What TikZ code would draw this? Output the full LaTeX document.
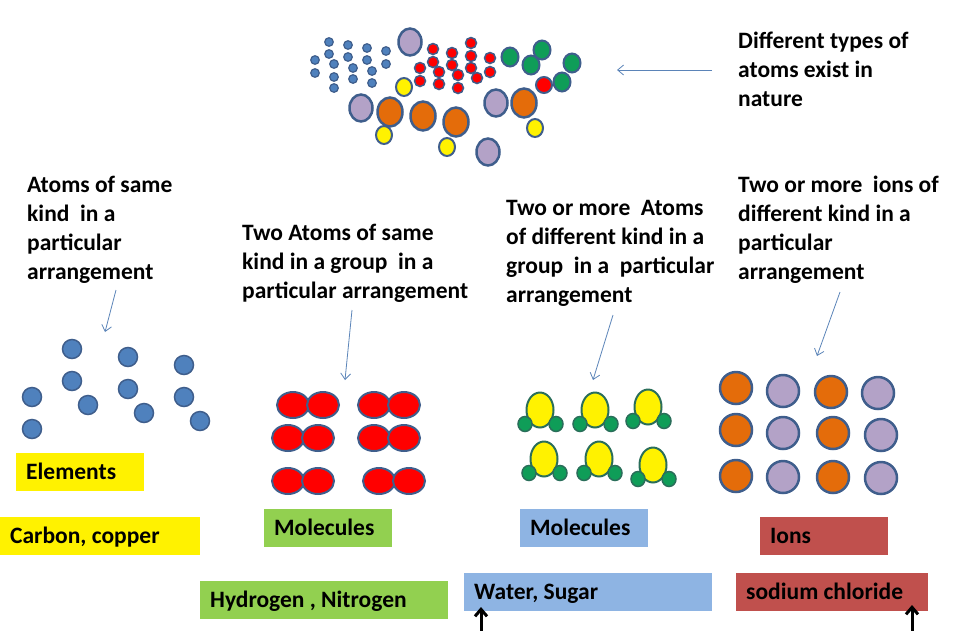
\documentclass[tikz,border=0pt]{standalone}
\usepackage{fontspec}
\setmainfont{Carlito}
\usetikzlibrary{positioning}
\usetikzlibrary{arrows.meta}
\definecolor{atomblue}{HTML}{4F81BD}
\definecolor{rimblue}{HTML}{3F5E8C}
\definecolor{lilac}{HTML}{B3A2C7}
\definecolor{ionorange}{HTML}{E46C0A}
\definecolor{hgreen}{HTML}{0F9D58}
\definecolor{hrim}{HTML}{2A6E5A}
\definecolor{boxgreen}{HTML}{92D050}
\definecolor{boxblue}{HTML}{8EB4E3}
\definecolor{boxred}{HTML}{C0504D}
\definecolor{pointer}{HTML}{5B84B8}
\frenchspacing
\begin{document}
\begin{tikzpicture}[x=1pt,y=-1pt,
                    note/.style={anchor=north west, align=left, inner sep=0pt,
                                 font=\bfseries\fontsize{23.5}{29}\selectfont},
                    tag/.style={anchor=north west, fill=#1, minimum height=38, inner xsep=10pt,
                                inner ysep=0pt, align=flush left, text height=18pt, text depth=3pt,
                                font=\bfseries\fontsize{23.5}{29}\selectfont},
                    atom/.style={fill=#1, draw=rimblue, line width=1.5},
                    pointer/.style={draw=pointer, line width=0.8, -{Straight Barb[length=6,width=10]}},
                    uparrow/.style={draw=black, line width=3, -{Straight Barb[length=7,width=12]}}]

    \useasboundingbox (0,0) rectangle (960,630);

    % atoms found in nature
    \foreach \x/\y in {329/42,348/45,367/48,386/51,329/54,348/57,367/60,386/64,315/60,334/64,
                       353/68,372/71,315/73,334/77,353/79,372/83,334/88}
        \filldraw[atom=atomblue, line width=1.2] (\x,\y) circle[radius=4.3];
    \foreach \x/\y in {433/49,452/53,471/43,433/62,452/65,471/56,420/68,439/72,458/75,471/68,
                       490/58,420/81,439/84,458/88,477/78,490/72}
        \filldraw[atom=red] (\x,\y) circle[radius=5.5];
    \foreach \x/\y in {510/57,542/50,531/65,572/63,562/82}
        \filldraw[atom=hgreen, line width=2] (\x,\y) circle[x radius=8.5, y radius=9.5];
    \filldraw[atom=red, line width=2] (544,85) circle[radius=8];
    \foreach \x/\y in {404/87,384/135,447/147,535/128}
        \filldraw[atom=yellow, line width=2] (\x,\y) circle[x radius=8, y radius=9];
    \foreach \x/\y in {410/42,361/108,496/103,488/152}
        \filldraw[atom=lilac, line width=2.5] (\x,\y) circle[x radius=11.5, y radius=13.5];
    \foreach \x/\y in {390/112,423/116,456/122,524/103}
        \filldraw[atom=ionorange, line width=2.5] (\x,\y) circle[x radius=12.5, y radius=14.5];

    % elements
    \foreach \x/\y in {72/349,128/357,184/365,72/381,128/389,184/397,32/397,88/405,144/413,
                       32/429,200/421}
        \filldraw[atom=atomblue] (\x,\y) circle[radius=9.5];

    % hydrogen molecules
    \foreach \x/\y in {293/405,374/405,288/438,374/438,288/481,379/481} {
        \filldraw[atom=red, line width=2] (\x,\y) circle[x radius=16, y radius=13];
        \filldraw[atom=red, line width=2] (\x+30,\y) circle[x radius=16, y radius=13];
    }

    % water molecules
    \foreach \x/\y in {540/410,595/410,648/407,544/459,599/459,653/465} {
        \filldraw[fill=yellow, draw=hrim, line width=2] (\x,\y) circle[x radius=13.5, y radius=17.5];
        \filldraw[fill=hgreen, draw=hrim, line width=1.5] (\x-15,\y+14) circle[x radius=7, y radius=7.5];
        \filldraw[fill=hgreen, draw=hrim, line width=1.5] (\x+16,\y+14) circle[x radius=7, y radius=7.5];
    }

    % ions
    \foreach \x/\y/\c in {736/388/ionorange,783/391/lilac,831/392/ionorange,878/393/lilac,
                          736/430/ionorange,783/433/lilac,833/433/ionorange,881/435/lilac,
                          736/476/ionorange,783/477/lilac,833/477/ionorange,881/478/lilac}
        \filldraw[atom=\c, line width=2.5] (\x,\y) circle[radius=16];

    % notes
    \node[note] (naturenote) at (738,32) {Different types of\\atoms exist in\\nature};
    \node[note] (elnote) at (27,176) {Atoms of same\\kind~ in a\\particular\\arrangement};
    \node[note] (hnote) at (242,224) {Two Atoms of same\\kind in a group~ in a\\particular arrangement};
    \node[note] (wnote) at (506,200) {Two or more~ Atoms\\of different kind in a\\group~ in a~ particular\\arrangement};
    \node[note] (ionnote) at (738,176) {Two or more~ ions of\\different kind in a\\particular\\arrangement};

    % labels
    \node[tag=yellow, text width=108pt] (elem) at (16,453) {Elements};
    \node[tag=yellow, text width=180pt] (carbon) at (0,517) {Carbon, copper};
    \node[tag=boxgreen, text width=108pt] (hmol) at (264,509) {Molecules};
    \node[tag=boxgreen, text width=228pt] (hydro) at (200,581) {Hydrogen , Nitrogen};
    \node[tag=boxblue, text width=108pt] (wmol) at (520,509) {Molecules};
    \node[tag=boxblue, text width=228pt] (water) at (464,573) {Water, Sugar};
    \node[tag=boxred, text width=108pt] (ions) at (760,517) {Ions};
    \node[tag=boxred, text width=172pt] (sodium) at (736,573) {sodium chloride};

    % pointers
    \coordinate (naturefrom) at (712,70);  \coordinate (natureto) at (617,70);
    \coordinate (elfrom) at (116,290);     \coordinate (elto) at (105,332);
    \coordinate (hfrom) at (352,310);      \coordinate (hto) at (345,380);
    \coordinate (wfrom) at (613,315);      \coordinate (wto) at (593,380);
    \coordinate (ionfrom) at (840,292);    \coordinate (ionto) at (817,356);
    \draw[pointer] (naturefrom) -- (natureto);
    \draw[pointer] (elfrom) -- (elto);
    \draw[pointer] (hfrom) -- (hto);
    \draw[pointer] (wfrom) -- (wto);
    \draw[pointer] (ionfrom) -- (ionto);

    \coordinate (wfoot) at (481,631);    \coordinate (wtip) at (481,607);
    \coordinate (sfoot) at (912,631);    \coordinate (stip) at (912,605);
    \draw[uparrow] (wfoot) -- (wtip);
    \draw[uparrow] (sfoot) -- (stip);

\end{tikzpicture}
\end{document}
